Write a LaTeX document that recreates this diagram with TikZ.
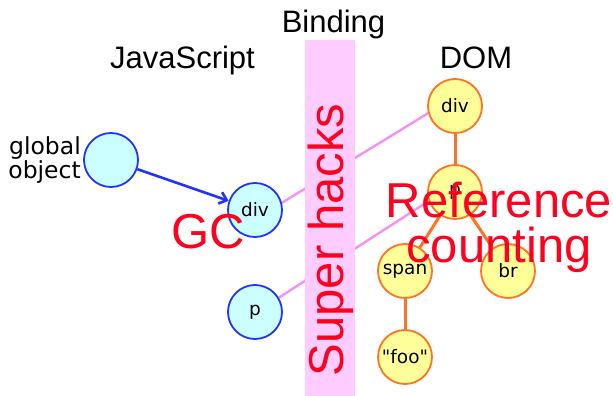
\documentclass[tikz,border=0pt]{standalone}
\usepackage{fontspec}
\setmainfont{Liberation Sans}
\newfontfamily\labelfont{DejaVu Sans}
\usetikzlibrary{arrows.meta,backgrounds}

\definecolor{jsfill}{RGB}{204,255,255}
\definecolor{jsline}{RGB}{34,51,255}
\definecolor{domfill}{RGB}{255,255,153}
\definecolor{domline}{RGB}{255,115,35}
\definecolor{bandfill}{RGB}{255,204,255}
\definecolor{bindline}{RGB}{245,145,245}
\definecolor{notered}{RGB}{255,0,30}

\begin{document}
\begin{tikzpicture}[x=1pt,y=-1pt,
  objnode/.style={circle, line width=1.8pt, minimum size=54pt, inner sep=0pt,
    font=\labelfont\fontsize{18.5}{22}\selectfont},
  jsobj/.style={objnode, draw=jsline, fill=jsfill},
  domobj/.style={objnode, draw=domline, fill=domfill},
  heading/.style={anchor=base, inner sep=0pt, font=\fontsize{31}{36}\selectfont},
  note/.style={text=notered, inner sep=0pt, font=\fontsize{49}{45}\selectfont},
  bindlink/.style={draw=bindline, line width=2.4pt},
  treelink/.style={draw=domline, line width=3pt},
  reflink/.style={draw=jsline, line width=2.6pt, -{Straight Barb[length=7pt,width=12pt]}},
]
\useasboundingbox (0,0) rectangle (613,396);

% column headings
\node[heading] (bindtitle) at (333.5,33) {Binding};
\node[heading] (jstitle) at (182.5,68) {JavaScript};
\node[heading] (domtitle) at (476,68) {DOM};

% JavaScript side
\node[jsobj] (global) at (111,160) {};
\node[anchor=east, align=right, inner sep=0pt,
  font=\labelfont\fontsize{23.5}{22}\selectfont] (globallabel) at (81,160) {global\\object};
\node[jsobj] (jsdiv) at (255,210) {div};
\node[jsobj] (jsp) at (255,312) {p};

% DOM tree
\node[domobj] (domdiv) at (455,106) {div};
\node[domobj] (domp) at (455,192) {p};
\node[domobj] (span) at (405,271) {span};
\node[domobj] (br) at (508,271) {br};
\node[domobj] (foo) at (405,357) {"foo"};

% wrapper links pass under the binding band
\begin{scope}[on background layer]
  \draw[bindlink] (jsdiv.15.6) -- (domdiv.195);
  \draw[bindlink] (jsp.31) -- (domp.199);
  \fill[bandfill] (305,40) rectangle (355,396);
\end{scope}

\draw[reflink] (global) -- (jsdiv);
\draw[treelink] (domdiv) -- (domp);
\draw[treelink] (domp) -- (span);
\draw[treelink] (domp) -- (br);
\draw[treelink] (span) -- (foo);

% annotations
\node[note, anchor=base] (gc) at (208,248) {GC};
\node[note, anchor=base, rotate=90] (hacks) at (343,240) {Super hacks};
\node[note, anchor=north, align=center] (refcount) at (499,182) {Reference\\counting};
\end{tikzpicture}
\end{document}
